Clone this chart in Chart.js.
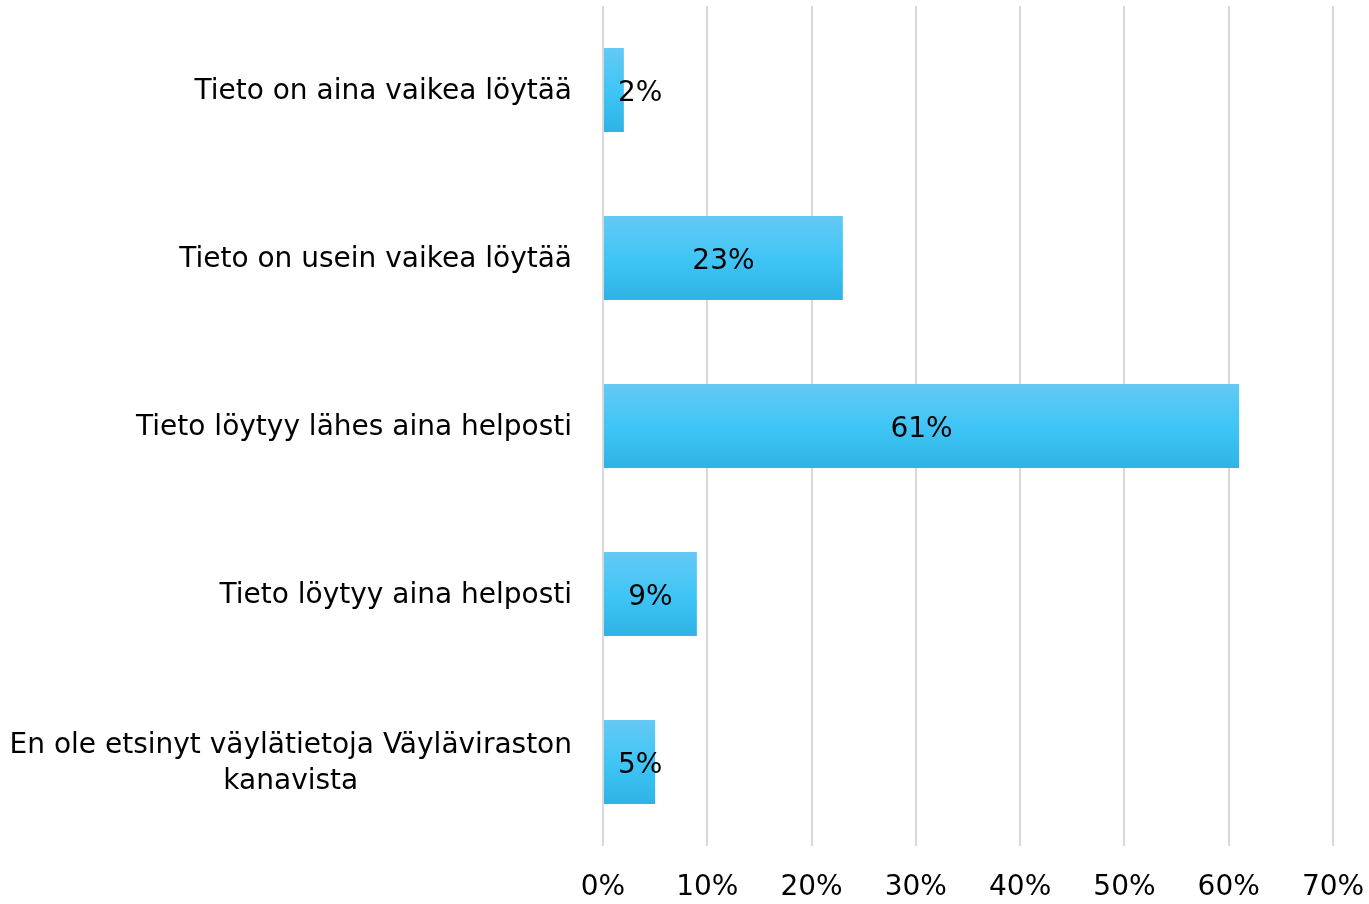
<!DOCTYPE html>
<html>
<head>
<meta charset="utf-8">
<script src="https://cdn.jsdelivr.net/npm/chart.js@4"></script>
<style>
  html, body { margin: 0; padding: 0; background: #fff; }
  #wrap { width: 1369px; height: 904px; }
</style>
</head>
<body>
<div id="wrap"><canvas id="chart" width="1369" height="904"></canvas></div>
<script>
// data
const categories = [
  ["Tieto on aina vaikea löytää"],
  ["Tieto on usein vaikea löytää"],
  ["Tieto löytyy lähes aina helposti"],
  ["Tieto löytyy aina helposti"],
  ["En ole etsinyt väylätietoja Väyläviraston", "kanavista"]
];
const shares = [2, 23, 61, 9, 5];
const xTicks = [0, 10, 20, 30, 40, 50, 60, 70];

const FONT = "'DejaVu Sans', sans-serif";
const FSIZE = 28;

// bar gradient, one per bar
function barFill(ctx) {
  const chart = ctx.chart;
  const y = chart.scales.y;
  if (!y || ctx.dataIndex === undefined) return "#3ec5f5";
  const c = y.getPixelForValue(ctx.dataIndex);
  const h = (y.height / categories.length) * 0.5;
  if (!isFinite(c) || !isFinite(h) || h <= 0) return "#3ec5f5";
  const g = chart.ctx.createLinearGradient(0, c - h / 2, 0, c + h / 2);
  g.addColorStop(0, "#65c9f4");
  g.addColorStop(0.5, "#3fc5f6");
  g.addColorStop(1, "#2fb3e6");
  return g;
}

// category labels: right aligned, wrapped lines centred on each other
const catLabels = {
  id: "catLabels",
  afterDraw(chart) {
    const { ctx, scales: { y } } = chart;
    ctx.save();
    ctx.font = FSIZE + "px " + FONT;
    ctx.fillStyle = "#000";
    ctx.textBaseline = "middle";
    ctx.textAlign = "center";
    const right = chart.chartArea.left - 31;
    const lh = 36;
    categories.forEach((lines, i) => {
      const c = y.getPixelForValue(i) + 2;
      const w = Math.max(...lines.map(l => ctx.measureText(l).width));
      const cx = right - w / 2;
      lines.forEach((l, k) => {
        ctx.fillText(l, cx, c + (k - (lines.length - 1) / 2) * lh);
      });
    });
    ctx.restore();
  }
};

// value labels inside the bars
const valueLabels = {
  id: "valueLabels",
  afterDatasetsDraw(chart) {
    const { ctx } = chart;
    const meta = chart.getDatasetMeta(0);
    ctx.save();
    ctx.font = FSIZE + "px " + FONT;
    ctx.fillStyle = "#000";
    ctx.textBaseline = "middle";
    ctx.textAlign = "center";
    meta.data.forEach((bar, i) => {
      const t = shares[i] + "%";
      const w = ctx.measureText(t).width;
      const mid = (bar.base + bar.x) / 2;
      const x = Math.max(mid, chart.chartArea.left + 15 + w / 2);
      ctx.fillText(t, x, bar.y + 4);
    });
    ctx.restore();
  }
};

new Chart(document.getElementById("chart"), {
  type: "bar",
  data: {
    labels: categories,
    datasets: [{
      data: shares,
      backgroundColor: barFill,
      borderWidth: 0,
      barPercentage: 0.5,
      categoryPercentage: 1
    }]
  },
  options: {
    indexAxis: "y",
    responsive: false,
    animation: false,
    layout: { padding: { top: 6, right: 0, bottom: 0, left: 0 } },
    plugins: { legend: { display: false }, tooltip: { enabled: false } },
    scales: {
      x: {
        min: 0,
        max: 70,
        afterBuildTicks: axis => { axis.ticks = xTicks.map(v => ({ value: v })); },
        grid: { color: "#d9d9d9", lineWidth: 2, drawTicks: false },
        border: { display: false },
        ticks: {
          font: { family: FONT, size: FSIZE },
          color: "#000",
          padding: 25,
          callback: v => v + "%"
        },
        afterFit: axis => {
          axis.height = 58;
          axis.paddingLeft = 0;
          axis.paddingRight = 36;
        }
      },
      y: {
        grid: { display: false },
        border: { display: false },
        ticks: { display: false },
        afterFit: axis => { axis.width = 603; }
      }
    }
  },
  plugins: [catLabels, valueLabels]
});
</script>
</body>
</html>
